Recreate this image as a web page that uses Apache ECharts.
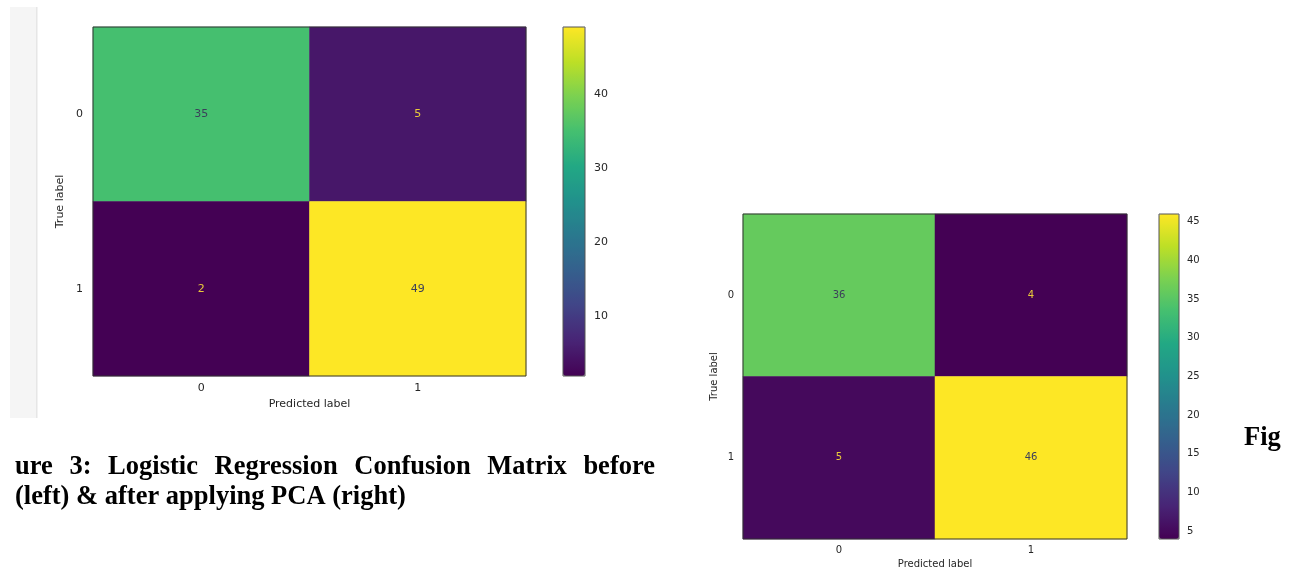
<!DOCTYPE html>
<html>
<head>
<meta charset="utf-8">
<script src="https://cdn.jsdelivr.net/npm/echarts@6/dist/echarts.min.js"></script>
<style>
html,body{margin:0;padding:0;background:#fff;}
#c{width:1293px;height:569px;}
</style>
</head>
<body>
<div id="c"></div>
<script>
// ---- data ----
const predictedLabels = ['0', '1'];
const trueLabels = ['0', '1'];
// rows = true label, cols = predicted label
const matrixBefore = [[35, 5], [2, 49]];
const matrixAfter = [[36, 4], [5, 46]];
const colorbarTicksBefore = [10, 20, 30, 40];
const colorbarTicksAfter = [5, 10, 15, 20, 25, 30, 35, 40, 45];
const captionLine1 = 'ure 3: Logistic Regression Confusion Matrix before';
const captionLine2 = '(left) & after applying PCA (right)';
const captionRight = 'Fig';

const viridis = ['#440154','#482475','#414487','#355f8d','#2a788e','#21918c','#22a884','#44bf70','#7ad151','#bddf26','#fde725'];

function toCells(m) {
  const out = [];
  m.forEach((row, r) => row.forEach((v, c) => out.push([c, r, v])));
  return out;
}
function flat(m) { return m.reduce((a, r) => a.concat(r), []); }

const minB = Math.min(...flat(matrixBefore)), maxB = Math.max(...flat(matrixBefore));
const minA = Math.min(...flat(matrixAfter)), maxA = Math.max(...flat(matrixAfter));

const FONT = '"DejaVu Sans", sans-serif';
const SERIF = '"Liberation Serif", "Times New Roman", serif';

const chart = echarts.init(document.getElementById('c'), null, {renderer: 'canvas'});

function heatGrid(g) { return Object.assign({show: true, borderColor: '#333', borderWidth: 1, backgroundColor: 'transparent', z: 10, outerBoundsMode: 'none', containLabel: false}, g); }
function barGrid(g) { return Object.assign({show: true, borderColor: '#555', borderWidth: 1, backgroundColor: 'transparent', z: 10, outerBoundsMode: 'none', containLabel: false}, g); }

function heatSeries(idx, data, minV, maxV, fs) {
  const mid = (minV + maxV) / 2;
  return {
    type: 'heatmap',
    xAxisIndex: idx, yAxisIndex: idx,
    data: data.map(d => ({
      value: d,
      label: {color: d[2] < mid ? '#e9cb3a' : '#3b3f5a'}
    })),
    label: {show: true, fontFamily: FONT, fontSize: fs, formatter: p => String(p.value[2])},
    emphasis: {disabled: true},
    itemStyle: {borderWidth: 0}
  };
}

// caption layout: justified first line
const measureCtx = document.createElement('canvas').getContext('2d');
const capFont = 'bold 26.5px ' + SERIF;
measureCtx.font = capFont;
const capLeft = 15, capRight = 655;
const words = captionLine1.split(' ');
const wordWidths = words.map(w => measureCtx.measureText(w).width);
const totalW = wordWidths.reduce((a, b) => a + b, 0);
const gap = (capRight - capLeft - totalW) / (words.length - 1);
const captionGraphics = [];
let cx = capLeft;
words.forEach((w, i) => {
  captionGraphics.push({type: 'text', x: cx, y: 467, style: {text: w, font: capFont, fill: '#000', verticalAlign: 'middle'}, silent: true});
  cx += wordWidths[i] + gap;
});
captionGraphics.push({type: 'text', x: capLeft, y: 497, style: {text: captionLine2, font: capFont, fill: '#000', verticalAlign: 'middle'}, silent: true});
captionGraphics.push({type: 'text', x: 1244, y: 438, style: {text: captionRight, font: capFont, fill: '#000', verticalAlign: 'middle'}, silent: true});

const option = {
  backgroundColor: '#fff',
  animation: false,
  graphic: [
    {type: 'rect', shape: {x: 10, y: 7, width: 26, height: 411}, style: {fill: '#f5f5f5'}, silent: true, z: -10},
    {type: 'rect', shape: {x: 36, y: 7, width: 1.5, height: 411}, style: {fill: '#e6e6e6'}, silent: true, z: -10}
  ].concat(captionGraphics),
  grid: [
    heatGrid({left: 93, top: 27, width: 433, height: 349}),
    barGrid({left: 563, top: 27, width: 22, height: 349}),
    heatGrid({left: 743, top: 214, width: 384, height: 325}),
    barGrid({left: 1159, top: 214, width: 20, height: 325})
  ],
  xAxis: [
    {gridIndex: 0, type: 'category', data: predictedLabels, name: 'Predicted label', nameLocation: 'middle', nameGap: 20,
      nameTextStyle: {fontFamily: FONT, fontSize: 11, color: '#262626'},
      axisLine: {show: false}, axisTick: {show: false}, splitLine: {show: false},
      axisLabel: {fontFamily: FONT, fontSize: 11, color: '#262626', margin: 7}},
    {gridIndex: 1, type: 'value', show: false},
    {gridIndex: 2, type: 'category', data: predictedLabels, name: 'Predicted label', nameLocation: 'middle', nameGap: 19,
      nameTextStyle: {fontFamily: FONT, fontSize: 10, color: '#262626'},
      axisLine: {show: false}, axisTick: {show: false}, splitLine: {show: false},
      axisLabel: {fontFamily: FONT, fontSize: 10, color: '#262626', margin: 6}},
    {gridIndex: 3, type: 'value', show: false}
  ],
  yAxis: [
    {gridIndex: 0, type: 'category', data: trueLabels, inverse: true, name: 'True label', nameLocation: 'middle', nameGap: 27,
      nameTextStyle: {fontFamily: FONT, fontSize: 11, color: '#262626'},
      axisLine: {show: false}, axisTick: {show: false}, splitLine: {show: false},
      axisLabel: {fontFamily: FONT, fontSize: 11, color: '#262626', margin: 10}},
    {gridIndex: 1, type: 'value', position: 'right', min: minB, max: maxB,
      axisLine: {show: false}, axisTick: {show: false}, splitLine: {show: false},
      axisLabel: {fontFamily: FONT, fontSize: 11, color: '#262626', margin: 9, customValues: colorbarTicksBefore}},
    {gridIndex: 2, type: 'category', data: trueLabels, inverse: true, name: 'True label', nameLocation: 'middle', nameGap: 24,
      nameTextStyle: {fontFamily: FONT, fontSize: 10, color: '#262626'},
      axisLine: {show: false}, axisTick: {show: false}, splitLine: {show: false},
      axisLabel: {fontFamily: FONT, fontSize: 10, color: '#262626', margin: 9}},
    {gridIndex: 3, type: 'value', position: 'right', min: minA, max: maxA,
      axisLine: {show: false}, axisTick: {show: false}, splitLine: {show: false},
      axisLabel: {fontFamily: FONT, fontSize: 10, color: '#262626', margin: 8, customValues: colorbarTicksAfter}}
  ],
  visualMap: [
    {type: 'continuous', seriesIndex: 0, min: minB, max: maxB, calculable: false, hoverLink: false,
      orient: 'vertical', left: 563, top: 27, itemWidth: 22, itemHeight: 349, padding: 0,
      inRange: {color: viridis}, text: null, showLabel: false},
    {type: 'continuous', seriesIndex: 1, min: minA, max: maxA, calculable: false, hoverLink: false,
      orient: 'vertical', left: 1159, top: 214, itemWidth: 20, itemHeight: 325, padding: 0,
      inRange: {color: viridis}, text: null, showLabel: false}
  ],
  series: [
    heatSeries(0, toCells(matrixBefore), minB, maxB, 11),
    heatSeries(2, toCells(matrixAfter), minA, maxA, 10)
  ]
};
chart.setOption(option);
</script>
</body>
</html>
